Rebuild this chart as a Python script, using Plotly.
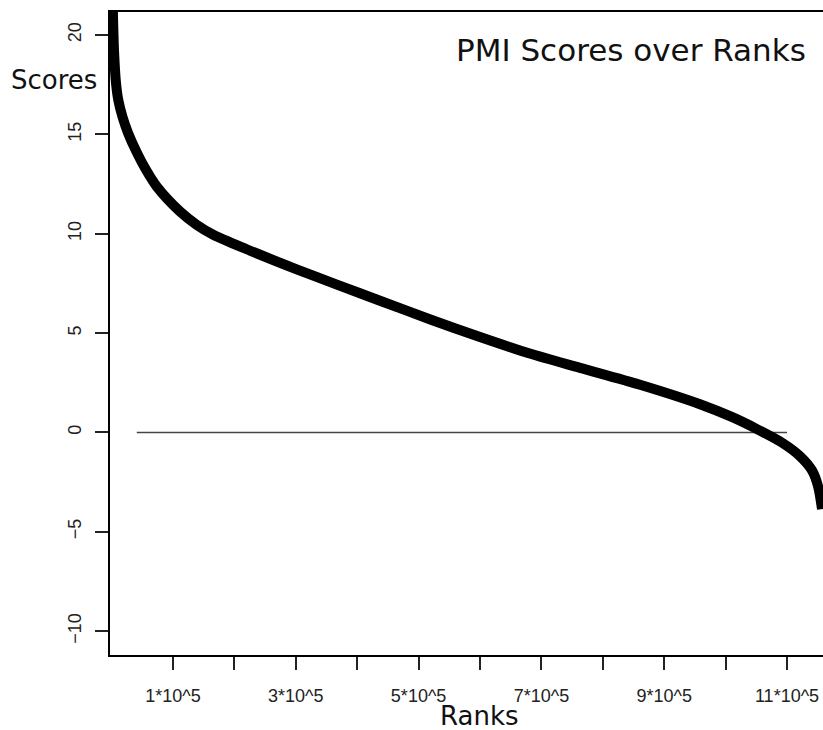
import plotly.graph_objects as go

# Curve data
ranks = [1500, 3900, 7170, 10900, 17750, 26700, 41370, 56030, 73940, 111400, 138600, 165600, 220000,
         301500, 368000, 437100, 518000, 600000, 681000, 762900, 860600, 958300,
         1010000, 1051000, 1093600, 1121000, 1140700, 1150500, 1157000]
scores = [22.0, 19.25, 17.59, 16.73, 15.88, 15.08, 14.07, 13.22, 12.36, 11.12, 10.45, 9.95, 9.22,
          8.21, 7.43, 6.63, 5.70, 4.80, 3.97, 3.25, 2.40, 1.42,
          0.78, 0.17, -0.55, -1.19, -1.91, -2.70, -3.86]

# Reference line at zero
zero_x = [41000, 1100000]
zero_y = [0, 0]

x_tick_vals = [100000, 200000, 300000, 400000, 500000, 600000, 700000, 800000, 900000, 1000000, 1100000]
x_tick_text = ["1*10^5", "", "3*10^5", "", "5*10^5", "", "7*10^5", "", "9*10^5", "", "11*10^5"]
y_tick_vals = [-10, -5, 0, 5, 10, 15, 20]
y_tick_text = ["\u221210", "\u22125", "0", "5", "10", "15", "20"]

W, H = 823, 730
L, R, T, B = 110, 0, 12, 75
pw, ph = W - L - R, H - T - B

def px(xp):
    return (xp - L) / pw

def py(yp):
    return (H - B - yp) / ph

fig = go.Figure()
fig.add_trace(go.Scatter(x=zero_x, y=zero_y, mode="lines",
                         line=dict(color="#444444", width=1.6), hoverinfo="skip"))
fig.add_trace(go.Scatter(x=ranks, y=scores, mode="lines",
                         line=dict(color="black", width=10, shape="spline", smoothing=0.8),
                         hoverinfo="skip"))

tickfont = dict(family="Liberation Sans, Arial, sans-serif", size=18, color="#222222")
labfont = dict(family="DejaVu Sans, sans-serif", size=26, color="#111111")

fig.update_layout(
    width=W, height=H,
    margin=dict(l=L, r=R, t=T, b=B, pad=0),
    paper_bgcolor="white", plot_bgcolor="white",
    showlegend=False,
    xaxis=dict(range=[-2600, 1158600], showgrid=False, zeroline=False,
               showline=True, linecolor="black", linewidth=1.6, mirror=True,
               ticks="outside", ticklen=13, tickwidth=1.5, tickcolor="#222222",
               tickvals=x_tick_vals, ticktext=x_tick_text, tickfont=tickfont,
               ticklabelstandoff=11),
    yaxis=dict(range=[-11.2, 21.16], showgrid=False, zeroline=False,
               showline=True, linecolor="black", linewidth=1.6,
               ticks="outside", ticklen=13, tickwidth=1.5, tickcolor="#222222",
               tickvals=y_tick_vals, ticktext=y_tick_text, tickfont=tickfont,
               tickangle=-90, ticklabelstandoff=7),
    annotations=[
        dict(text="PMI Scores over Ranks", xref="paper", yref="paper",
             x=px(631), y=py(50), xanchor="center", yanchor="middle",
             showarrow=False, font=dict(family="DejaVu Sans, sans-serif", size=31, color="#111111")),
        dict(text="Scores", xref="paper", yref="paper",
             x=px(54), y=py(80), xanchor="center", yanchor="middle",
             showarrow=False, font=labfont),
        dict(text="Ranks", xref="paper", yref="paper",
             x=px(479), y=py(716), xanchor="center", yanchor="middle",
             showarrow=False, font=labfont),
    ],
)

fig.write_html("out.html", config={"displayModeBar": False},
               post_script="document.body.style.margin='0';document.body.style.overflow='hidden';")
